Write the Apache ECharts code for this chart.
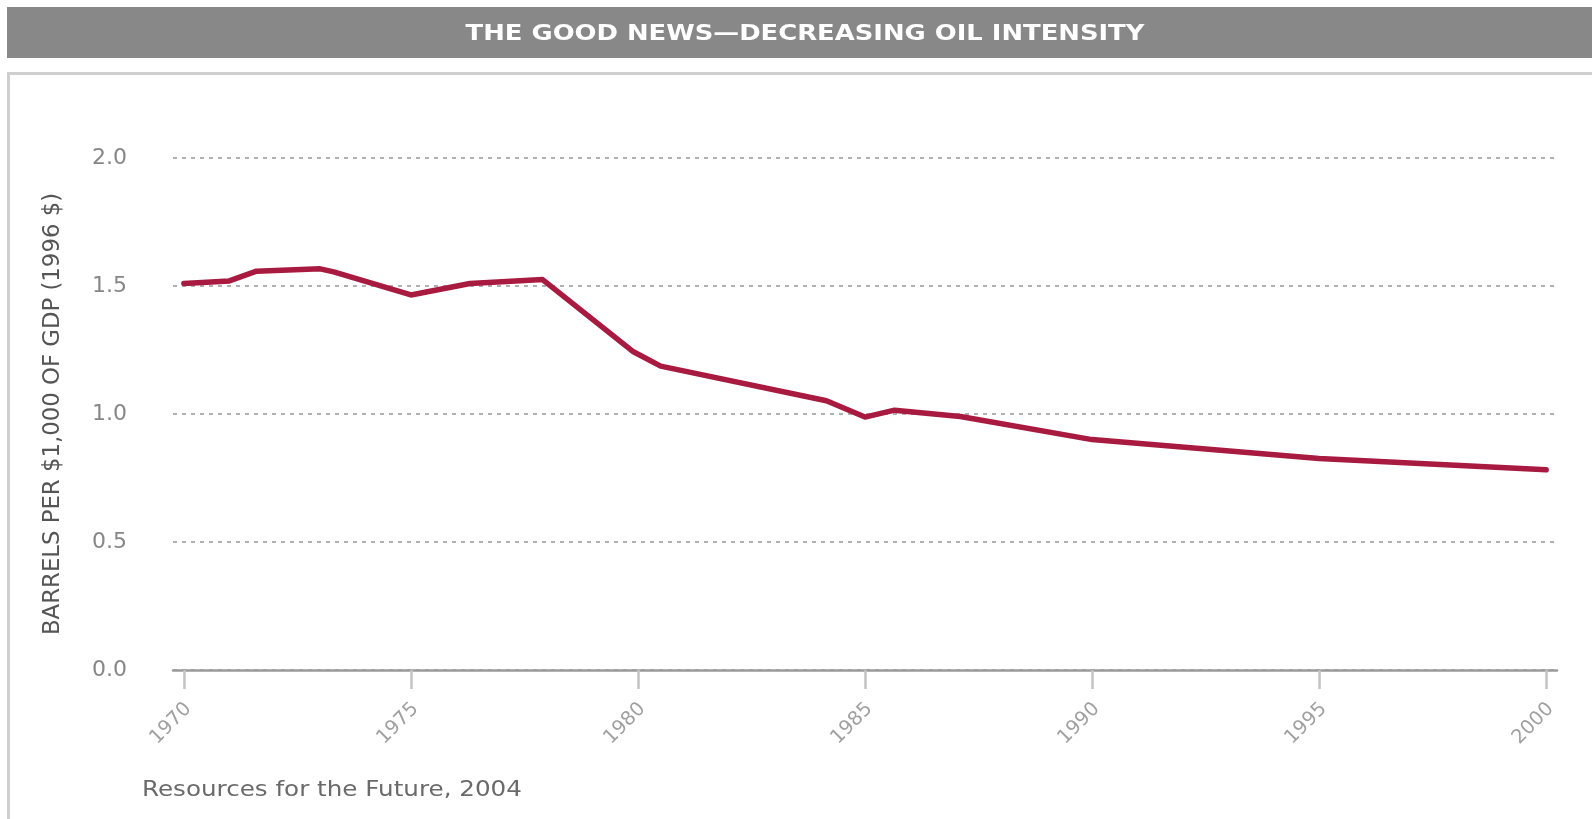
<!DOCTYPE html>
<html>
<head>
<meta charset="utf-8">
<script src="https://cdn.jsdelivr.net/npm/echarts@6/dist/echarts.min.js"></script>
<style>
html,body{margin:0;padding:0;background:#fff;}
#chart{width:1592px;height:819px;}
</style>
</head>
<body>
<div id="chart"></div>
<script>
// Data (year, barrels per $1,000 of GDP, 1996 $)
const years  = [1970, 1971, 1971.6, 1973, 1973.3, 1975, 1976.3, 1977.9, 1979.9, 1980.5, 1984.15, 1985, 1985.65, 1987.1, 1990, 1995, 2000];
const values = [1.51, 1.52, 1.558, 1.567, 1.555, 1.465, 1.51, 1.525, 1.243, 1.187, 1.052, 0.988, 1.015, 0.99, 0.9, 0.826, 0.782];
const xTickYears = [1970, 1975, 1980, 1985, 1990, 1995, 2000];
const yTicks = [0, 0.5, 1.0, 1.5, 2.0];
const titleText = 'THE GOOD NEWS\u2014DECREASING OIL INTENSITY';
const yAxisName = 'BARRELS PER $1,000 OF GDP (1996 $)';
const sourceText = 'Resources for the Future, 2004';

const seriesData = years.map((y, i) => [y, values[i]]);
// rotated labels sit slightly right of their ticks in the reference
const labelNudge = 0.1;

const chart = echarts.init(document.getElementById('chart'), null, {renderer: 'canvas'});
chart.setOption({
  backgroundColor: '#ffffff',
  animation: false,
  graphic: [
    {type: 'rect', shape: {x: 7, y: 7, width: 1600, height: 51}, style: {fill: '#878887'}, z: 0},
    {type: 'rect', shape: {x: 8.5, y: 73.5, width: 1600, height: 800}, style: {fill: 'none', stroke: '#cfcfcf', lineWidth: 3}, z: 0},
    {type: 'text', x: 805, y: 34.5, scaleX: 1.23, z: 10,
      style: {text: titleText, fill: '#ffffff', font: 'bold 21px "DejaVu Sans"', align: 'center', verticalAlign: 'middle', textAlign: 'center', textVerticalAlign: 'middle'}},
    {type: 'text', x: 142, y: 791, scaleX: 1.2, z: 10,
      style: {text: sourceText, fill: '#6a6a6a', font: '20.5px "DejaVu Sans"', align: 'left', verticalAlign: 'middle', textAlign: 'left', textVerticalAlign: 'middle'}}
  ],
  grid: {left: 173, right: 35, top: 158, bottom: 149, containLabel: false},
  xAxis: {
    type: 'value',
    min: 1969.76,
    max: 2000.24,
    splitLine: {show: false},
    axisLine: {show: true, lineStyle: {color: '#9a9a9a', width: 2.5}},
    axisTick: {show: true, customValues: xTickYears, length: 19, lineStyle: {color: '#c4c4c4', width: 2.5}},
    axisLabel: {
      customValues: xTickYears.map(v => v + labelNudge),
      rotate: 45,
      margin: 36,
      color: '#a0a0a0',
      fontSize: 19.5,
      fontFamily: 'DejaVu Sans',
      formatter: v => String(Math.round(v))
    }
  },
  yAxis: {
    type: 'value',
    min: 0,
    max: 2,
    interval: 0.5,
    name: yAxisName,
    nameLocation: 'middle',
    nameRotate: 90,
    nameGap: 108,
    nameTextStyle: {color: '#555555', fontSize: 22.8, fontFamily: 'DejaVu Sans'},
    axisLine: {show: false},
    axisTick: {show: false},
    axisLabel: {
      margin: 46,
      color: '#878787',
      fontSize: 22,
      fontFamily: 'DejaVu Sans',
      formatter: v => v.toFixed(1)
    },
    splitLine: {show: true, lineStyle: {color: '#b0b0b0', width: 2, type: [4, 5]}}
  },
  series: [{
    type: 'line',
    data: seriesData,
    symbol: 'none',
    lineStyle: {color: '#a81a40', width: 5.5, join: 'round', cap: 'round'},
    z: 5
  }]
});
</script>
</body>
</html>
